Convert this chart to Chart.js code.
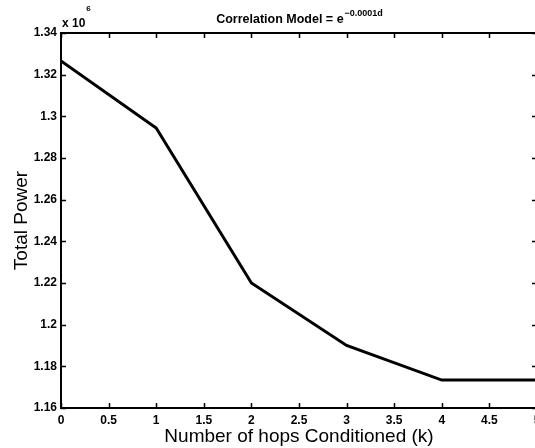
<!DOCTYPE html>
<html><head><meta charset="utf-8">
<style>
html,body{margin:0;padding:0;overflow:hidden;background:#fff;width:535px;height:448px}
canvas{display:block}
</style>
<script src="https://cdn.jsdelivr.net/npm/chart.js@4/dist/chart.umd.min.js"></script>
</head><body>
<canvas id="c" width="548" height="448" style="width:548px;height:448px"></canvas>
<script>
// ---- data ----
const hops = [0, 1, 2, 3, 4, 5];
const totalPower = [1326600, 1294400, 1220000, 1190000, 1173400, 1173400];
const xTickValues = [0, 0.5, 1, 1.5, 2, 2.5, 3, 3.5, 4, 4.5, 5];
const yTickValues = [1160000, 1180000, 1200000, 1220000, 1240000, 1260000, 1280000, 1300000, 1320000, 1340000];
const yScaleFactor = 1e6;
const titleMain = 'Correlation Model = e';
const titleExp = '\u22120.0001d';
const exponentBase = 'x 10';
const exponentPow = '6';
const xAxisTitle = 'Number of hops Conditioned (k)';
const yAxisTitle = 'Total Power';

const FAM = '"Liberation Sans", Arial, Helvetica, sans-serif';

const framePlugin = {
  id: 'frame',
  afterDraw(chart) {
    const ctx = chart.ctx;
    const a = chart.chartArea;
    const xs = chart.scales.x, ys = chart.scales.y;
    ctx.save();
    ctx.strokeStyle = '#000';
    ctx.lineWidth = 2;
    ctx.strokeRect(a.left, a.top, a.right - a.left, a.bottom - a.top);
    ctx.lineWidth = 1.5;
    const tl = 5;
    ctx.beginPath();
    xTickValues.forEach(v => {
      const p = Math.round(xs.getPixelForValue(v)) + 0.5;
      ctx.moveTo(p, a.bottom); ctx.lineTo(p, a.bottom - tl);
      ctx.moveTo(p, a.top); ctx.lineTo(p, a.top + tl);
    });
    yTickValues.forEach(v => {
      const p = Math.round(ys.getPixelForValue(v)) + 0.5;
      ctx.moveTo(a.left, p); ctx.lineTo(a.left + tl, p);
      ctx.moveTo(a.right, p); ctx.lineTo(a.right - tl, p);
    });
    ctx.stroke();

    // title with superscript
    ctx.fillStyle = '#000';
    ctx.textBaseline = 'alphabetic';
    ctx.font = 'bold 12.5px ' + FAM;
    const w1 = ctx.measureText(titleMain).width;
    ctx.font = 'bold 9px ' + FAM;
    const w2 = ctx.measureText(titleExp).width;
    const cx = (a.left + a.right) / 2;
    const sx = cx - (w1 + w2) / 2;
    ctx.font = 'bold 12.5px ' + FAM;
    ctx.textAlign = 'left';
    ctx.fillText(titleMain, sx, 23);
    ctx.font = 'bold 9px ' + FAM;
    ctx.fillText(titleExp, sx + w1 + 1, 16);

    // exponent label
    ctx.font = 'bold 12px ' + FAM;
    ctx.fillText(exponentBase, a.left + 1, 27);
    const we = ctx.measureText(exponentBase).width;
    ctx.font = 'bold 8px ' + FAM;
    ctx.fillText(exponentPow, a.left + 1 + we + 1, 11);
    ctx.restore();
  }
};

new Chart(document.getElementById('c'), {
  type: 'line',
  data: {
    datasets: [{
      data: hops.map((h, i) => ({ x: h, y: totalPower[i] })),
      borderColor: '#000',
      borderWidth: 3,
      pointRadius: 0,
      tension: 0,
      fill: false
    }]
  },
  options: {
    responsive: false,
    animation: false,
    devicePixelRatio: 1,
    layout: { padding: { top: 33, right: 11, left: 0, bottom: 0 } },
    plugins: { legend: { display: false }, tooltip: { enabled: false }, title: { display: false } },
    scales: {
      x: {
        type: 'linear', min: 0, max: 5,
        afterBuildTicks: s => { s.ticks = xTickValues.map(v => ({ value: v })); },
        afterFit: s => { s.height = 40; },
        grid: { display: false, drawTicks: false },
        border: { display: false },
        ticks: {
          padding: 5, color: '#000', maxRotation: 0, autoSkip: false,
          font: { family: FAM, size: 12, weight: 'bold' },
          callback: v => String(v)
        },
        title: { display: true, text: xAxisTitle, color: '#000', padding: { top: 0, bottom: 0 },
          font: { family: FAM, size: 19, weight: 'normal' } }
      },
      y: {
        type: 'linear', min: 1160000, max: 1340000,
        afterBuildTicks: s => { s.ticks = yTickValues.map(v => ({ value: v })); },
        afterFit: s => { s.width = 61; },
        grid: { display: false, drawTicks: false },
        border: { display: false },
        ticks: {
          padding: 4, color: '#000', autoSkip: false,
          font: { family: FAM, size: 12, weight: 'bold' },
          callback: v => String(Number((v / yScaleFactor).toFixed(2)))
        },
        title: { display: true, text: yAxisTitle, color: '#000', padding: { top: 10, bottom: 0 },
          font: { family: FAM, size: 19, weight: 'normal' } }
      }
    }
  },
  plugins: [framePlugin]
});
</script>
</body></html>
